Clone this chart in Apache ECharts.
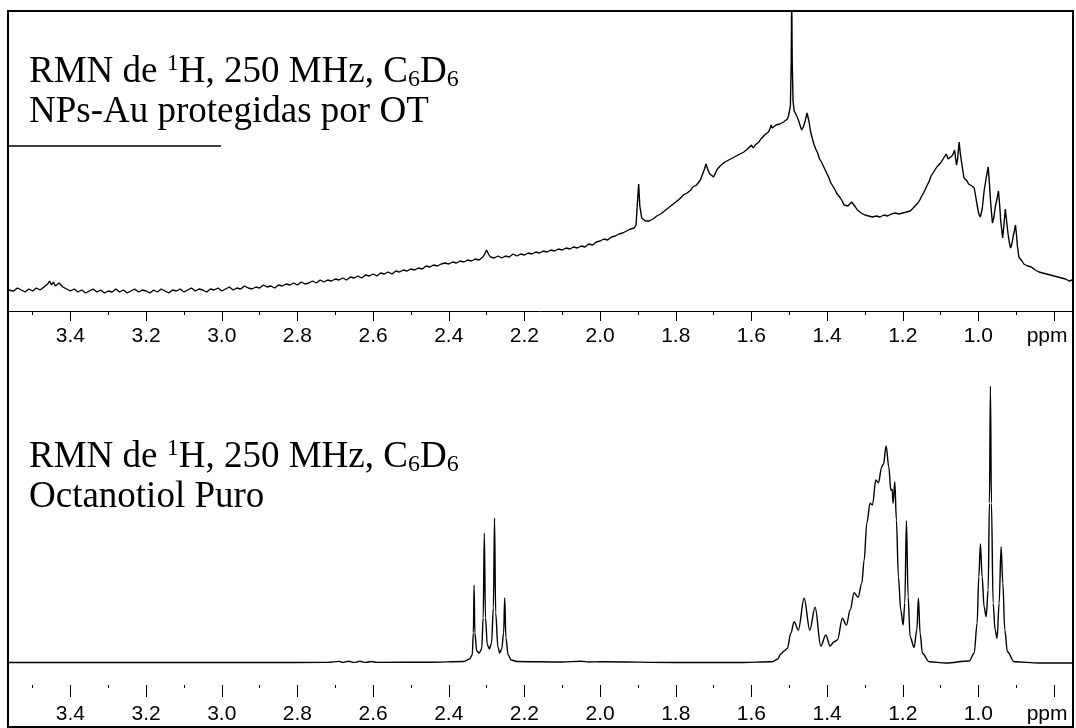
<!DOCTYPE html>
<html><head><meta charset="utf-8">
<script src="https://cdn.jsdelivr.net/npm/echarts@6/dist/echarts.min.js"></script>
<style>html,body{margin:0;padding:0;background:#fff}#c{width:1076px;height:728px}</style>
</head><body><div id="c"></div>
<script>
// ---- Data: [chemical shift (ppm), intensity (arbitrary units)] ----
const topSpectrum = [
[3.565,21],[3.56,22],[3.55,20],[3.54,23],[3.53,21],[3.52,19],[3.51,22],[3.50,20],[3.49,23],[3.48,21],[3.47,24],[3.46,27],[3.455,30],[3.45,26],[3.445,29],[3.44,25],[3.43,28],[3.42,24],[3.41,22],[3.40,20],
[3.39,22],[3.38,19],[3.37,21],[3.36,18],[3.35,20],[3.34,22],[3.33,19],[3.32,21],[3.31,18],[3.30,20],[3.29,19],[3.28,22],[3.27,19],[3.26,21],[3.25,18],[3.24,20],[3.23,22],[3.22,19],[3.21,21],[3.20,20],
[3.19,18],[3.18,21],[3.17,19],[3.16,22],[3.15,20],[3.14,18],[3.13,21],[3.12,20],[3.11,22],[3.10,19],[3.09,21],[3.08,23],[3.07,20],[3.06,22],[3.05,21],[3.04,19],[3.03,22],[3.02,21],[3.01,23],[3.00,20],
[2.99,22],[2.98,24],[2.97,21],[2.96,23],[2.95,22],[2.94,25],[2.93,23],[2.92,22],[2.91,24],[2.90,23],[2.89,26],[2.88,24],[2.87,25],[2.86,23],[2.85,26],[2.84,25],[2.83,27],[2.82,26],[2.81,28],[2.80,26],
[2.79,29],[2.78,27],[2.77,28],[2.76,30],[2.75,28],[2.74,31],[2.73,29],[2.72,31],[2.71,30],[2.70,32],[2.69,31],[2.68,33],[2.67,31],[2.66,34],[2.65,33],[2.64,35],[2.63,33],[2.62,36],[2.61,35],[2.60,37],
[2.59,35],[2.58,38],[2.57,37],[2.56,39],[2.55,37],[2.54,40],[2.53,39],[2.52,41],[2.51,40],[2.50,42],[2.49,41],[2.48,43],[2.47,42],[2.46,45],[2.45,44],[2.44,46],[2.43,45],[2.42,47],[2.41,48],[2.40,47],
[2.39,49],[2.38,48],[2.37,50],[2.36,49],[2.35,51],[2.34,50],[2.33,52],[2.32,51],[2.31,54],[2.305,57],[2.30,61],[2.295,57],[2.29,54],[2.28,53],[2.27,55],[2.26,53],[2.25,55],[2.24,54],[2.23,57],[2.22,55],
[2.21,57],[2.20,56],[2.19,58],[2.18,57],[2.17,59],[2.16,58],[2.15,60],[2.14,59],[2.13,61],[2.12,60],[2.11,62],[2.10,61],[2.09,63],[2.08,62],[2.07,64],[2.06,63],[2.05,65],[2.04,64],[2.03,67],[2.02,66],
[2.01,69],[2.00,70],[1.99,72],[1.98,71],[1.97,74],[1.96,75],[1.95,77],[1.94,78],[1.93,80],[1.92,82],[1.915,84],[1.91,83],[1.905,86],[1.901,110],[1.898,127],[1.895,105],[1.89,93],[1.885,91],[1.88,90],[1.875,88],
[1.87,90],[1.865,89],[1.86,92],[1.855,91],[1.85,95],[1.845,94],[1.84,97],[1.835,98],[1.83,100],[1.825,99],[1.82,103],[1.815,104],[1.81,106],[1.805,107],[1.80,109],[1.795,110],[1.79,112],[1.785,113],[1.78,116],[1.775,115],
[1.77,118],[1.765,120],[1.76,121],[1.755,124],[1.75,123],[1.745,126],[1.74,128],[1.735,131],[1.73,136],[1.725,141],[1.72,147],[1.715,141],[1.71,137],[1.705,135],[1.70,134],[1.695,138],[1.69,142],[1.685,141],[1.68,146],[1.675,145],
[1.67,149],[1.665,148],[1.66,151],[1.655,150],[1.65,153],[1.645,152],[1.64,155],[1.635,154],[1.63,157],[1.625,156],[1.62,159],[1.615,160],[1.61,162],[1.605,163],[1.60,166],[1.595,163],[1.59,166],[1.585,168],[1.58,169],[1.575,172],
[1.57,173],[1.565,176],[1.56,177],[1.555,179],[1.55,183],[1.548,186],[1.545,183],[1.54,184],[1.535,186],[1.53,185],[1.525,187],[1.52,188],[1.515,189],[1.51,191],[1.505,192],[1.502,195],[1.497,205],[1.4948,250],[1.4935,320],[1.4922,250],
[1.490,210],[1.487,200],[1.483,198],[1.48,195],[1.475,190],[1.47,184],[1.467,181],[1.462,185],[1.458,190],[1.453,198],[1.448,190],[1.444,180],[1.44,174],[1.435,167],[1.43,162],[1.425,158],[1.42,152],[1.415,149],[1.41,145],[1.405,141],
[1.40,137],[1.395,133],[1.39,128],[1.385,125],[1.38,122],[1.375,118],[1.37,116],[1.365,113],[1.36,110],[1.355,106],[1.35,107],[1.345,105],[1.34,107],[1.335,109],[1.33,110],[1.325,104],[1.32,101],[1.315,100],[1.31,98],[1.305,97],
[1.30,96],[1.295,94],[1.29,95],[1.285,93],[1.28,94],[1.275,92],[1.27,95],[1.265,93],[1.26,94],[1.255,92],[1.25,96],[1.245,94],[1.24,95],[1.235,93],[1.23,97],[1.225,95],[1.22,98],[1.215,96],[1.21,97],[1.205,99],
[1.20,98],[1.195,97],[1.19,99],[1.185,98],[1.18,100],[1.175,102],[1.17,104],[1.165,106],[1.16,108],[1.155,111],[1.15,115],[1.145,118],[1.14,122],[1.135,126],[1.13,130],[1.125,135],[1.12,138],[1.115,141],[1.11,144],[1.105,146],
[1.10,148],[1.095,151],[1.09,153],[1.085,157],[1.08,152],[1.075,150],[1.07,155],[1.066,158],[1.063,161],[1.06,152],[1.058,146],[1.055,152],[1.051,169],[1.048,158],[1.045,150],[1.041,140],[1.038,133],[1.034,131],[1.03,130],[1.026,127],
[1.022,128],[1.017,125],[1.011,123],[1.007,114],[1.003,105],[0.999,97],[0.995,94],[0.99,102],[0.985,120],[0.979,134],[0.974,144],[0.971,128],[0.968,110],[0.963,88],[0.959,94],[0.955,105],[0.951,112],[0.947,120],[0.944,107],[0.941,90],
[0.936,73],[0.932,88],[0.929,102],[0.926,92],[0.922,78],[0.918,68],[0.915,63],[0.911,68],[0.908,75],[0.905,80],[0.902,86],[0.899,75],[0.897,65],[0.893,54],[0.889,52],[0.885,50],[0.88,47],[0.875,46],[0.87,45],[0.865,43],
[0.86,44],[0.855,42],[0.85,41],[0.845,40],[0.84,39],[0.835,38],[0.83,38],[0.825,36],[0.82,37],[0.815,35],[0.81,36],[0.805,34],[0.80,35],[0.795,33],[0.79,34],[0.785,32],[0.78,33],[0.775,31],[0.77,32],[0.765,31],[0.76,30],[0.752,31]
];

const bottomSpectrum = [
[3.565,0.5],[3.2,0.5],[2.9,0.5],[2.72,0.6],[2.69,1.6],[2.68,0.6],[2.665,1.8],[2.65,0.6],[2.635,1.8],[2.62,0.6],[2.605,1.5],[2.59,0.6],[2.45,0.8],[2.36,1.5],[2.345,4],
[2.338,8],[2.335,30],[2.333,78],[2.331,30],[2.326,12],[2.3195,10],[2.313,14],[2.309,45],[2.306,130],[2.303,45],[2.298,18],[2.2925,14],[2.287,20],[2.282,55],[2.279,145],[2.276,50],[2.270,16],[2.2655,10],[2.260,14],[2.255,30],[2.252,65],[2.249,25],[2.243,8],[2.235,3],[2.22,1.5],
[2.10,1],[2.05,1.8],[2.03,1],[2.00,1.2],[1.80,0.5],[1.6326,0.5],[1.5445,1.3],[1.531,3.7],[1.5224,9],[1.5136,12],[1.505,14.7],[1.496,29.7],[1.487,41.3],[1.476,33],[1.4607,64.7],[1.4457,33],[1.4317,55.7],[1.4166,17],[1.4034,28],[1.392,17],
[1.3814,21.3],[1.3727,23],[1.3595,44.7],[1.3489,38],[1.339,53],[1.3286,70.3],[1.318,65.7],[1.3083,79.7],[1.302,103],[1.295,139.7],[1.2863,159.7],[1.280,158],[1.2712,183],[1.2643,180.3],[1.2554,196.3],[1.2511,198.7],[1.244,217],[1.2369,196.3],[1.2316,173],[1.2281,173.7],
[1.2255,159.7],[1.221,181.3],[1.2168,143],[1.2115,86.3],[1.2052,53],[1.199,38],[1.1946,59.7],[1.1903,142.3],[1.1858,66.3],[1.1805,26.3],[1.170,15.7],[1.1628,33],[1.1586,64.7],[1.1541,29.7],[1.148,9.7],[1.1303,1.3],[1.0862,0],[1.0246,2],[1.0113,9.7],[1.0034,39.7],
[0.999,86.3],[0.9947,119],[0.9902,86.3],[0.985,56.3],[0.9796,46.3],[0.9743,73],[0.9709,159.7],[0.9683,277],[0.9656,159.7],[0.9611,59.7],[0.9558,33],[0.9506,24.7],[0.9453,59.7],[0.940,116.3],[0.9355,79.7],[0.9303,33],[0.9233,11.3],[0.9056,1.3],[0.8396,0],[0.752,0]
];

const majorTicks = [0.8,1.0,1.2,1.4,1.6,1.8,2.0,2.2,2.4,2.6,2.8,3.0,3.2,3.4];
const minorTicks = [0.9,1.1,1.3,1.5,1.7,1.9,2.1,2.3,2.5,2.7,2.9,3.1,3.3,3.5];
const tickLabels = ['ppm','1.0','1.2','1.4','1.6','1.8','2.0','2.2','2.4','2.6','2.8','3.0','3.2','3.4'];

const topTitle = ['RMN de {sup|1}H, 250 MHz, C{sub|6}D{sub|6}', 'NPs-Au protegidas por OT'];
const botTitle = ['RMN de {sup|1}H, 250 MHz, C{sub|6}D{sub|6}', 'Octanotiol Puro'];

// ---- Chart ----
const chart = echarts.init(document.getElementById('c'), null, {renderer: 'canvas'});
const SHIFT_MIN = 0.75, SHIFT_MAX = 3.565;

function majorAxis(grid, lineShow, tickLen, margin) {
  return {
    type: 'value', gridIndex: grid, inverse: true, position: 'bottom',
    min: SHIFT_MIN, max: SHIFT_MAX,
    axisLine: {show: lineShow, onZero: false, lineStyle: {color: '#000', width: 1}},
    axisTick: {show: true, length: tickLen, customValues: majorTicks, lineStyle: {color: '#000', width: 1}},
    axisLabel: {
      show: true, customValues: majorTicks, margin: margin,
      fontFamily: 'Liberation Sans', fontSize: 21, color: '#000',
      formatter: function (v) {
        const i = majorTicks.findIndex(t => Math.abs(t - v) < 1e-6);
        const s = i >= 0 ? tickLabels[i] : '';
        return s === 'ppm' ? '{p|ppm}' : s;
      },
      rich: {p: {fontFamily: 'Liberation Sans', fontSize: 21, color: '#000', padding: [0, 14, 0, 0]}}
    },
    splitLine: {show: false}
  };
}
function minorAxis(grid, tickLen) {
  return {
    type: 'value', gridIndex: grid, inverse: true, position: 'bottom',
    min: SHIFT_MIN, max: SHIFT_MAX,
    axisLine: {show: false, onZero: false},
    axisTick: {show: true, length: tickLen, customValues: minorTicks, lineStyle: {color: '#000', width: 1}},
    axisLabel: {show: false},
    splitLine: {show: false}
  };
}

const richTitle = {
  sup: {fontFamily: 'Liberation Serif', fontSize: 24, lineHeight: 40, verticalAlign: 'top', color: '#000'},
  sub: {fontFamily: 'Liberation Serif', fontSize: 24, lineHeight: 40, verticalAlign: 'bottom', color: '#000'}
};
function titleText(x, y, str) {
  return {
    type: 'text', left: x, top: y, z: 10,
    style: {text: str, fontFamily: 'Liberation Serif', fontSize: 37, lineHeight: 40, fill: '#000', rich: richTitle}
  };
}

chart.setOption({
  animation: false,
  backgroundColor: '#fff',
  grid: [
    {left: 8, right: 3, top: 11, height: 300, containLabel: false},
    {left: 8, right: 3, top: 363, height: 322, containLabel: false}
  ],
  xAxis: [
    majorAxis(0, true, 10, 15),
    minorAxis(0, 4),
    majorAxis(1, false, 12, 19),
    minorAxis(1, 3)
  ],
  yAxis: [
    {type: 'value', gridIndex: 0, min: 0, max: 300, show: false},
    {type: 'value', gridIndex: 1, min: -22, max: 300, show: false}
  ],
  series: [
    {type: 'line', xAxisIndex: 0, yAxisIndex: 0, data: topSpectrum, showSymbol: false, symbol: 'none',
     lineStyle: {color: '#000', width: 1.4}, clip: true},
    {type: 'line', xAxisIndex: 2, yAxisIndex: 1, data: bottomSpectrum, showSymbol: false, symbol: 'none',
     smooth: 0.35, smoothMonotone: 'x', lineStyle: {color: '#000', width: 1.4}, clip: true}
  ],
  graphic: [
    {type: 'rect', shape: {x: 8, y: 11, width: 1065, height: 716}, style: {fill: null, stroke: '#000', lineWidth: 2}, z: 20, silent: true},
    {type: 'line', shape: {x1: 8, y1: 146, x2: 221, y2: 146}, style: {stroke: '#000', lineWidth: 1.5}, z: 20, silent: true},
    titleText(29, 52, topTitle.join('\n')),
    titleText(29, 437, botTitle.join('\n'))
  ]
});
</script></body></html>
